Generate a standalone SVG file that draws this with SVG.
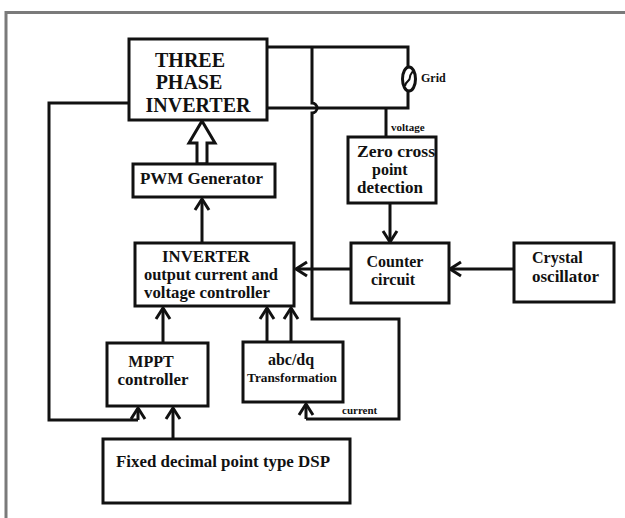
<svg xmlns="http://www.w3.org/2000/svg" width="625" height="518" viewBox="0 0 625 518">
  <style>
    .box { fill: #fff; stroke: #111; stroke-width: 3; }
    .wire { fill: none; stroke: #111; stroke-width: 3; }
    .arrow { fill: none; stroke: #111; stroke-width: 3; marker-end: url(#vhead); }
    .t { font-family: "Liberation Serif", "Times New Roman", serif; font-weight: bold; fill: #111; }
    .big { font-size: 20px; }
    .mid { font-size: 16px; }
    .small { font-size: 12px; }
    .tiny { font-size: 11px; }
  </style>
  <defs>
    <marker id="vhead" markerUnits="userSpaceOnUse" markerWidth="24" markerHeight="24" viewBox="-14 -12 16 24" refX="0" refY="0" orient="auto">
      <path d="M -11 -7 L 0 0 L -11 7" fill="none" stroke="#111" stroke-width="3"/>
    </marker>
  </defs>

  <rect width="625" height="518" fill="#fff"/>

  <!-- outer frame -->
  <path d="M 6 518 V 12.5 H 625" fill="none" stroke="#7a7a7a" stroke-width="3"/>

  <!-- connectors -->
  <g id="connectors">
    <!-- inverter output to grid -->
    <path class="wire" d="M 267 47 H 408 V 67"/>
    <path class="wire" d="M 267 108 H 408 V 91"/>
    <!-- voltage sense line -->
    <path class="wire" d="M 386 108 V 137"/>
    <!-- current sense line, hopping over the lower phase wire -->
    <path class="wire" d="M 312 47 V 103 A 5 5 0 0 1 312 113 V 319 H 399 V 419 H 306"/>
    <path class="arrow" d="M 306 419 V 404"/>
    <!-- feedback from inverter to MPPT -->
    <path class="wire" d="M 129 103 H 49 V 420 H 138"/>
    <path class="arrow" d="M 138 420 V 408"/>
    <!-- PWM to inverter (hollow block arrow) -->
    <polygon points="202,121 215,143 207,143 207,164 197,164 197,143 189,143" fill="#fff" stroke="#111" stroke-width="3" stroke-linejoin="miter"/>
    <!-- controller to PWM -->
    <path class="arrow" d="M 202 243 V 199"/>
    <!-- zero cross to counter -->
    <path class="arrow" d="M 390 203 V 242"/>
    <!-- crystal to counter -->
    <path class="arrow" d="M 514 269 H 450"/>
    <!-- counter to controller -->
    <path class="arrow" d="M 351 269 H 296"/>
    <!-- MPPT to controller -->
    <path class="arrow" d="M 163 343 V 308"/>
    <!-- abc/dq to controller -->
    <path class="arrow" d="M 267 342 V 308"/>
    <path class="arrow" d="M 291 342 V 308"/>
    <!-- DSP to MPPT -->
    <path class="arrow" d="M 173 439 V 408"/>
  </g>

  <!-- grid source -->
  <g id="grid">
    <ellipse cx="409" cy="79" rx="6.5" ry="12" fill="#fff" stroke="#111" stroke-width="3"/>
    <path d="M 405 86 C 406 80, 410 82, 410 77 C 410 74, 412 73, 413 71" fill="none" stroke="#111" stroke-width="2"/>
    <text class="t small" x="421" y="82">Grid</text>
    <text class="t tiny" x="391" y="131">voltage</text>
  </g>

  <g id="three-phase-inverter">
    <rect class="box" x="129" y="39" width="138" height="81"/>
    <text class="t big" x="190" y="67" text-anchor="middle">THREE</text>
    <text class="t big" x="189" y="89" text-anchor="middle">PHASE</text>
    <text class="t big" x="198" y="112" text-anchor="middle">INVERTER</text>
  </g>

  <g id="pwm-generator">
    <rect class="box" x="133" y="164" width="142" height="33"/>
    <text class="t mid" x="140" y="184" textLength="123" lengthAdjust="spacingAndGlyphs">PWM Generator</text>
  </g>

  <g id="zero-cross">
    <rect class="box" x="348" y="137" width="88" height="66"/>
    <text class="t mid" x="357" y="157" textLength="78" lengthAdjust="spacingAndGlyphs">Zero cross</text>
    <text class="t mid" x="372" y="175">point</text>
    <text class="t mid" x="357" y="193" textLength="66" lengthAdjust="spacingAndGlyphs">detection</text>
  </g>

  <g id="inverter-controller">
    <rect class="box" x="135" y="243" width="159" height="63"/>
    <text class="t mid" x="162" y="262" textLength="88" lengthAdjust="spacingAndGlyphs">INVERTER</text>
    <text class="t mid" x="144" y="280" textLength="134" lengthAdjust="spacingAndGlyphs">output current and</text>
    <text class="t mid" x="144" y="298" textLength="126" lengthAdjust="spacingAndGlyphs">voltage controller</text>
  </g>

  <g id="counter-circuit">
    <rect class="box" x="351" y="243" width="98" height="60"/>
    <text class="t mid" x="395" y="267" text-anchor="middle">Counter</text>
    <text class="t mid" x="393" y="285" text-anchor="middle">circuit</text>
  </g>

  <g id="crystal-oscillator">
    <rect class="box" x="514" y="243" width="100" height="59"/>
    <text class="t mid" x="532" y="263">Crystal</text>
    <text class="t mid" x="532" y="282" textLength="67" lengthAdjust="spacingAndGlyphs">oscillator</text>
  </g>

  <g id="mppt-controller">
    <rect class="box" x="107" y="343" width="101" height="63"/>
    <text class="t mid" x="151" y="367" text-anchor="middle">MPPT</text>
    <text class="t mid" x="153" y="385" text-anchor="middle" textLength="71" lengthAdjust="spacingAndGlyphs">controller</text>
  </g>

  <g id="abc-dq">
    <rect class="box" x="243" y="342" width="100" height="60"/>
    <text class="t mid" x="291" y="365" text-anchor="middle">abc/dq</text>
    <text class="t small" x="247" y="382" textLength="90" lengthAdjust="spacingAndGlyphs">Transformation</text>
    <text class="t tiny" x="342" y="414">current</text>
  </g>

  <g id="dsp">
    <rect class="box" x="103" y="439" width="247" height="64"/>
    <text class="t mid" x="116" y="467" textLength="214" lengthAdjust="spacingAndGlyphs">Fixed decimal point type DSP</text>
  </g>
</svg>
